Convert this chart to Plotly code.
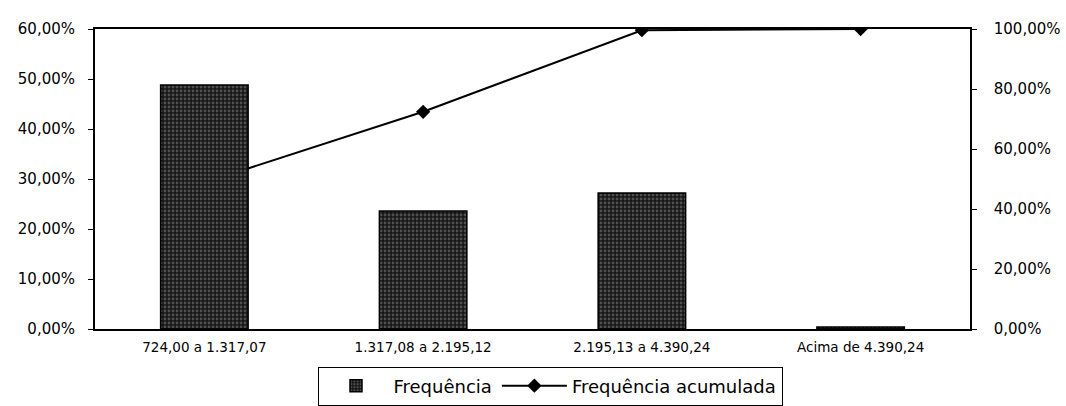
import plotly.graph_objects as go

categories = ["724,00 a 1.317,07", "1.317,08 a 2.195,12", "2.195,13 a 4.390,24", "Acima de 4.390,24"]
frequencia = [48.8, 23.6, 27.2, 0.4]
acumulada = [48.8, 72.4, 99.6, 100.0]

left_ticks = [0, 10, 20, 30, 40, 50, 60]
left_text = ["0,00%", "10,00%", "20,00%", "30,00%", "40,00%", "50,00%", "60,00%"]
right_ticks = [0, 20, 40, 60, 80, 100]
right_text = ["0,00%", "20,00%", "40,00%", "60,00%", "80,00%", "100,00%"]

FONT = "DejaVu Sans"

fig = go.Figure()
fig.add_trace(go.Scatter(
    x=categories, y=acumulada, name="Frequência acumulada",
    mode="lines+markers", yaxis="y",
    line=dict(color="black", width=2),
    marker=dict(symbol="diamond", size=11, color="black"),
))
fig.add_trace(go.Bar(
    x=categories, y=frequencia, name="Frequência", yaxis="y2",
    width=0.40,
    marker=dict(color="#1a1a1a", line=dict(color="black", width=1.5),
                pattern=dict(shape=".", fgcolor="#8a8a8a", bgcolor="#161616", solidity=0.4, size=4)),
))

fig.update_layout(
    width=1066, height=406,
    margin=dict(l=95, r=96, t=29, b=77, autoexpand=False),
    paper_bgcolor="white", plot_bgcolor="white",
    font=dict(family=FONT, color="black", size=15),
    showlegend=True,
    legend=dict(orientation="h", x=0.52, xanchor="center", y=-0.19, yanchor="middle",
                bordercolor="black", borderwidth=1, font=dict(size=18, family=FONT),
                traceorder="reversed", itemwidth=65),
    xaxis=dict(showline=True, linecolor="black", linewidth=1.5, mirror=True,
               showgrid=False, ticks="", tickfont=dict(size=13.5, family=FONT),
               ticklabelstandoff=5, automargin=False),
    yaxis=dict(side="right", range=[0, 100], tickvals=right_ticks, ticktext=right_text,
               showline=True, linecolor="black", linewidth=1.5, showgrid=False,
               zeroline=False, ticks="outside", ticklen=5, tickcolor="black",
               tickfont=dict(size=15, family=FONT), ticklabelstandoff=14, automargin=False),
    yaxis2=dict(overlaying="y", side="left", range=[0, 60], tickvals=left_ticks, ticktext=left_text,
                showline=True, linecolor="black", linewidth=2, showgrid=False,
                zeroline=False, ticks="outside", ticklen=5, tickcolor="black",
                tickfont=dict(size=15, family=FONT), ticklabelstandoff=10, automargin=False),
)

fig.write_html("out.html")
